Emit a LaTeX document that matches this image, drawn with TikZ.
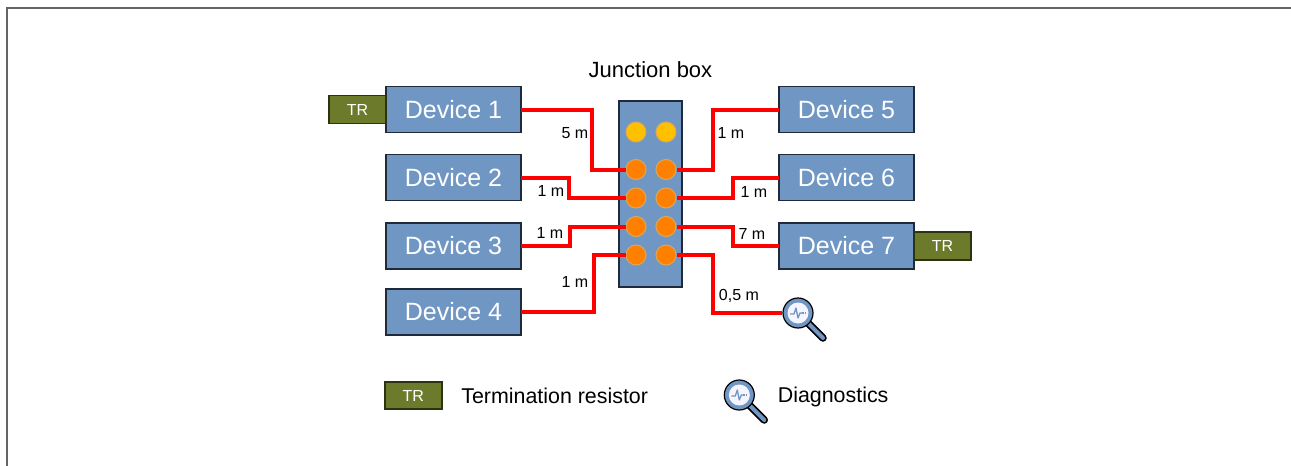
\documentclass[tikz,border=0pt]{standalone}
\usepackage{fontspec}
\setmainfont{Liberation Sans}
\usetikzlibrary{
    positioning,
    calc
}
\definecolor{devblue}{HTML}{7097C4}
\definecolor{devline}{HTML}{1F2B3B}
\definecolor{trgreen}{HTML}{6B7B2B}
\definecolor{trline}{HTML}{2B3310}
\definecolor{portorange}{HTML}{FF8000}
\definecolor{portyellow}{HTML}{FFC000}
\definecolor{portline}{HTML}{D9A85A}
\definecolor{framegray}{HTML}{646464}
\tikzset{
  device/.style = {
      draw=devline,
      fill=devblue,
      line width=1.5pt,
      rectangle,
      minimum width=135pt,
      minimum height=46pt,
      inner sep=0pt,
      outer sep=0pt,
      text=white,
      font=\fontsize{25}{30}\selectfont
  },
  term/.style = {
      draw=trline,
      fill=trgreen,
      line width=1.5pt,
      minimum width=57pt,
      minimum height=28pt,
      inner sep=0pt,
      outer sep=0pt,
      text=white,
      font=\fontsize{16}{19}\selectfont
  },
  junction/.style = {
      draw=devline,
      fill=devblue,
      line width=1.2pt,
      minimum width=63pt,
      minimum height=186pt
  },
  port/.style = {
      circle,
      draw=portline,
      fill=portorange,
      line width=1pt,
      minimum size=20pt,
      inner sep=0pt
  },
  spare/.style = {
      port,
      fill=portyellow
  },
  cable/.style = {
      draw=red,
      line width=4pt
  },
  cablelen/.style = {
      font=\fontsize{16}{19}\selectfont,
      inner sep=0pt
  },
  legtext/.style = {
      font=\fontsize{21.4}{25}\selectfont,
      inner sep=0pt,
      text depth=0pt
  },
  magnifier/.pic = {
      \draw[line width=7.5pt, line cap=round] (9,9) -- (25,25);
      \draw[devblue, line width=4pt, line cap=round] (9,9) -- (25,25);
      \node[circle, draw=black, fill=devblue, line width=1.2pt,
            minimum size=30pt, inner sep=0pt] (-lens) at (0,0) {};
      \fill[blue!4] (0,0) circle (10.5pt);
      \draw[devblue, line width=1.3pt, line join=round]
        (-8,1) -- (-4,1) -- (-2,-5) -- (0,5) -- (2,0) -- (4,0);
      \draw[devblue, line width=1.3pt, dash pattern=on 1.5pt off 1pt] (4,0) -- (8,0);
  }
}
\begin{document}
\begin{tikzpicture}[x=1pt, y=-1pt]
    \useasboundingbox (0,0) rectangle (1291,466);
    \draw[framegray, line width=2pt] (7,466) -- (7,7.5) -- (1291,7.5);
    % Nodes
    \node[device] (d1) at (453.5,109.5) {Device 1};
    \node[device, below=22pt of d1] (d2) {Device 2};
    \node[device, below=22.5pt of d2] (d3) {Device 3};
    \node[device, below=20pt of d3] (d4) {Device 4};
    \node[device] (d5) at (846.5,109.5) {Device 5};
    \node[device, below=22pt of d5] (d6) {Device 6};
    \node[device, below=22.5pt of d6] (d7) {Device 7};
    \node[term, left=0pt of d1] (t1) {TR};
    \node[term, right=0pt of d7] (t7) {TR};
    % Junction box
    \node[junction] (jb) at (650.5,194) {};
    \node[font=\fontsize{22}{26}\selectfont, above=19pt of jb] (jbl) {Junction box};
    \node[spare] (s1) at (636,132) {};
    \node[spare] (s2) at (666,132) {};
    \foreach \y [count=\i] in {169.5,198,226.5,255} {
        \node[port] (l\i) at (636,\y) {};
        \node[port] (r\i) at (666,\y) {};
    }
    \pic (dg) at (798,313) {magnifier};
    % Cables
    \path[cable]
    (d1.east) -| ([xshift=-34pt]l1.west) -- (l1.west)
    (d2.east) -| ([xshift=-57pt]l2.west) -- (l2.west)
    (d3.east) -| ([xshift=-56pt]l3.west) -- (l3.west)
    (d4.east) -| ([xshift=-32pt]l4.west) -- (l4.west)
    (d5.west) -| ([xshift=36pt]r1.east) -- (r1.east)
    (d6.west) -| ([xshift=56pt]r2.east) -- (r2.east)
    (d7.west) -| ([xshift=56pt]r3.east) -- (r3.east)
    (dg-lens.west) -| ([xshift=36pt]r4.east) -- (r4.east);
    % Lengths
    \node[cablelen] (c1) at (575,133) {5 m};
    \node[cablelen] (c2) at (551,191) {1 m};
    \node[cablelen] (c3) at (550,233) {1 m};
    \node[cablelen] (c4) at (575,282) {1 m};
    \node[cablelen] (c5) at (731,133) {1 m};
    \node[cablelen] (c6) at (754,192) {1 m};
    \node[cablelen] (c7) at (752,234) {7 m};
    \node[cablelen] (c8) at (739,296) {0,5 m};
    % Legend
    \node[term, minimum height=27pt] (lt) at (413.3,395.7) {TR};
    \node[legtext, right=19.3pt of lt] (ltl) {Termination resistor};
    \pic (lg) at (739.3,395) {magnifier};
    \node[legtext, right=22.7pt of lg-lens] (lgl) {Diagnostics};
\end{tikzpicture}
\end{document}
